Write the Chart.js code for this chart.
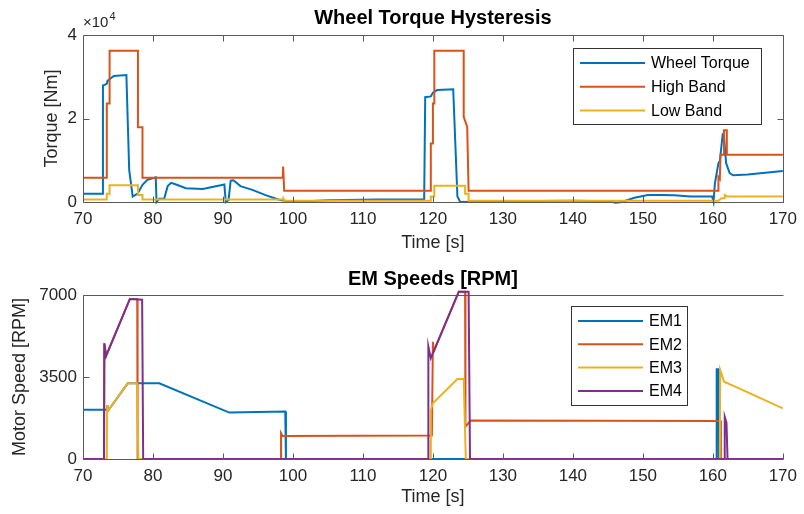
<!DOCTYPE html>
<html>
<head>
<meta charset="utf-8">
<script src="https://cdn.jsdelivr.net/npm/chart.js@4.4.0/dist/chart.umd.min.js"></script>
<style>
  html, body { margin: 0; padding: 0; background: #fff; }
  #wrap { position: relative; width: 804px; height: 514px; }
  canvas { position: absolute; left: 0; }
</style>
</head>
<body>
<div id="wrap">
  <canvas id="torque" width="804" height="257" style="top:0"></canvas>
  <canvas id="speeds" width="804" height="257" style="top:257px"></canvas>
</div>
<script>
// ---- Wheel torque hysteresis (top) ----
const wheelT = [70, 72.8, 72.85, 73.4, 73.5, 74.4, 76.2, 76.6, 77.1, 77.8, 78.5, 79.2, 80.4, 80.5, 80.9, 81.6, 82.1, 82.6, 83.3, 84.7, 87.1, 90.2, 90.4, 90.8, 91.1, 91.5, 92.5, 94.2, 96, 97.9, 99.8, 105, 112, 118.75, 118.9, 119.7, 120, 120.6, 122.9, 123.5, 123.9, 130, 140, 145.2, 146.1, 147, 148.8, 150.7, 152.6, 154.5, 156.8, 159.9, 160.1, 160.3, 160.8, 161.0, 161.4, 161.6, 161.9, 162.4, 162.9, 165, 170];
const wheelV = [2000, 2000, 27900, 28300, 29000, 30200, 30400, 7700, 1300, 2000, 4100, 5300, 5900, 0, 800, 800, 3800, 4600, 4200, 3300, 3100, 4200, 0, 500, 5100, 5200, 3800, 2900, 1700, 600, 0, 400, 600, 650, 25100, 25300, 26200, 26800, 27000, 1300, 0, 200, 300, 200, -200, 0, 1000, 1700, 1700, 1600, 1300, 1300, 0, 4500, 9300, 9800, 16000, 15500, 9300, 6900, 6400, 6600, 7400];

const highT = [70, 73.4, 73.4, 73.8, 73.8, 77.85, 77.85, 78.5, 78.5, 98.55, 98.6, 98.75, 119.7, 119.7, 120.0, 120.0, 120.2, 120.2, 124.4, 124.4, 124.9, 125.1, 160.8, 160.8, 161.0, 161.1, 161.6, 161.6, 162.0, 162.0, 170];
const highV = [5800, 5800, 23600, 23600, 36200, 36200, 17900, 17900, 5800, 5800, 8500, 2700, 2700, 14000, 14000, 23600, 23600, 36200, 36200, 20400, 18000, 2700, 2700, 6000, 5500, 11300, 11300, 17200, 17200, 11300, 11300];

const lowT = [70, 73.4, 73.4, 73.8, 73.8, 77.85, 77.85, 78.5, 78.5, 98.55, 98.6, 98.75, 119.7, 119.7, 120.2, 120.2, 124.6, 124.6, 125.1, 125.1, 160.8, 161.2, 161.6, 161.7, 162.1, 170];
const lowV = [600, 600, 2000, 2000, 4000, 4000, 1700, 1700, 600, 600, 900, 300, 300, 1300, 1300, 3900, 3900, 2000, 2000, 300, 300, 900, 900, 1700, 1300, 1300];

// ---- EM speeds (bottom) ----
const em1T = [70, 73.4, 73.45, 73.55, 76.4, 80.9, 90.9, 98.9, 99.0, 160.5, 160.55, 160.8, 160.85, 170];
const em1V = [2100, 2100, 2300, 2050, 3230, 3230, 1980, 2030, 0, 0, 3830, 3830, 0, 0];

const em2T = [70, 73.0, 73.05, 73.3, 76.7, 77.75, 77.8, 98.3, 98.3, 98.5, 119.85, 120.0, 120.1, 123.7, 124.6, 124.65, 125.4, 161.1, 161.15, 170];
const em2V = [0, 0, 4940, 4400, 6830, 6830, 0, 0, 1100, 980, 1000, 5000, 4580, 7140, 7140, 1380, 1640, 1620, 0, 0];

const em3T = [70, 73.4, 73.45, 73.55, 76.4, 77.75, 77.9, 119.7, 119.7, 120.0, 123.5, 124.4, 124.7, 161.0, 161.05, 161.6, 163.2, 170];
const em3V = [0, 0, 2300, 2050, 3230, 3230, 0, 0, 2090, 2380, 3410, 3410, 0, 0, 3800, 3300, 3090, 2160];

const em4T = [70, 73.0, 73.05, 73.3, 76.7, 78.45, 78.6, 119.3, 119.35, 119.7, 123.7, 125.1, 125.3, 161.65, 161.7, 161.95, 162.1, 170];
const em4V = [0, 0, 4940, 4400, 6830, 6800, 0, 0, 4800, 4300, 7140, 7140, 0, 0, 1800, 1550, 0, 0];

const timeTicks = [70, 80, 90, 100, 110, 120, 130, 140, 150, 160, 170];
const torqueTicks = [0, 20000, 40000];
const speedTicks = [0, 3500, 7000];

const C_BLUE = '#0072BD', C_RED = '#D95319', C_YEL = '#EDB120', C_PUR = '#7E2F8E';
const FONT = "'Liberation Sans', Arial, Helvetica, sans-serif";
const AXIS = '#5a5a5a';
const TXT = '#262626';

const pts = (t, v) => t.map((x, i) => ({ x: x, y: v[i] }));

// later series are drawn on top, like matlab's plot order
function ds(label, t, v, color, order) {
  return {
    label: label, data: pts(t, v), borderColor: color, backgroundColor: color,
    borderWidth: 2, pointRadius: 0, tension: 0, clip: false, order: order
  };
}

// frame, inward ticks, title and legend drawn around the chart area
function makeDecor(o) {
  return {
    id: 'decor',
    afterDraw(chart) {
      const ctx = chart.ctx, a = chart.chartArea;
      const xs = chart.scales.x, ys = chart.scales.y;
      const L = Math.round(a.left) + 0.5, R = Math.round(a.right) + 0.5;
      const T = Math.round(a.top) + 0.5, B = Math.round(a.bottom) + 0.5;
      ctx.save();
      ctx.strokeStyle = AXIS;
      ctx.lineWidth = 1;
      ctx.beginPath();
      ctx.moveTo(L, T); ctx.lineTo(L, B); ctx.lineTo(R, B);
      if (o.right) ctx.lineTo(R, T);
      ctx.moveTo(L, T); ctx.lineTo(R, T);
      const tl = 6;
      o.xticks.forEach(v => {
        const px = Math.round(xs.getPixelForValue(v)) + 0.5;
        ctx.moveTo(px, B); ctx.lineTo(px, B - tl);
        if (o.topTicks) { ctx.moveTo(px, T); ctx.lineTo(px, T + tl); }
      });
      o.yticks.forEach(v => {
        const py = Math.round(ys.getPixelForValue(v)) + 0.5;
        ctx.moveTo(L, py); ctx.lineTo(L + tl, py);
        if (o.right) { ctx.moveTo(R, py); ctx.lineTo(R - tl, py); }
      });
      ctx.stroke();

      // title
      ctx.fillStyle = '#000';
      ctx.font = 'bold 20px ' + FONT;
      ctx.textAlign = 'center';
      ctx.textBaseline = 'middle';
      ctx.fillText(o.title, (a.left + a.right) / 2, o.titleY);

      if (o.exponent) {
        ctx.fillStyle = TXT;
        ctx.textAlign = 'left';
        ctx.textBaseline = 'alphabetic';
        ctx.font = '15px ' + FONT;
        ctx.fillText('\u00d710', a.left, 27);
        const w = ctx.measureText('\u00d710').width;
        ctx.font = '11px ' + FONT;
        ctx.fillText('4', a.left + w + 1, 20);
      }

      // legend
      const lg = o.legend;
      ctx.fillStyle = '#fff';
      ctx.fillRect(lg.x, lg.y, lg.w, lg.h);
      ctx.strokeStyle = '#333';
      ctx.strokeRect(lg.x + 0.5, lg.y + 0.5, lg.w, lg.h);
      ctx.font = '16px ' + FONT;
      ctx.textAlign = 'left';
      ctx.textBaseline = 'middle';
      chart.data.datasets.forEach((d, i) => {
        const y = lg.row0 + i * lg.step;
        ctx.strokeStyle = d.borderColor;
        ctx.lineWidth = 2;
        ctx.beginPath();
        ctx.moveTo(lg.x + 7, y); ctx.lineTo(lg.x + 72, y);
        ctx.stroke();
        ctx.fillStyle = '#000';
        ctx.fillText(d.label, lg.x + 78, y + 1);
      });
      ctx.restore();
    }
  };
}

function baseOptions(yMin, yMax, yStep, yTitle, yTitlePad, xTitlePad, topPad, yFmt) {
  return {
    responsive: false,
    animation: false,
    layout: { padding: { top: topPad, right: 16, bottom: 0, left: 0 } },
    plugins: { legend: { display: false }, tooltip: { enabled: false }, title: { display: false } },
    scales: {
      x: {
        type: 'linear', min: 70, max: 170,
        grid: { display: false, drawTicks: false },
        border: { display: false },
        afterFit: s => { s.height = 55; },
        ticks: {
          stepSize: 10, autoSkip: false, maxRotation: 0, padding: 7,
          color: TXT, font: { family: FONT, size: 17 }
        },
        title: {
          display: true, text: 'Time [s]', color: TXT,
          font: { family: FONT, size: 18 }, padding: { top: 0, bottom: xTitlePad }
        }
      },
      y: {
        min: yMin, max: yMax,
        grid: { display: false, drawTicks: false },
        border: { display: false },
        afterFit: s => { s.width = 83; },
        ticks: {
          stepSize: yStep, padding: 6, color: TXT,
          font: { family: FONT, size: 17 },
          callback: yFmt
        },
        title: {
          display: true, text: yTitle, color: TXT,
          font: { family: FONT, size: 18 }, padding: { top: yTitlePad, bottom: 0 }
        }
      }
    }
  };
}

new Chart(document.getElementById('torque'), {
  type: 'line',
  data: {
    datasets: [
      ds('Wheel Torque', wheelT, wheelV, C_BLUE, 3),
      ds('High Band', highT, highV, C_RED, 2),
      ds('Low Band', lowT, lowV, C_YEL, 1)
    ]
  },
  options: baseOptions(torqueTicks[0], torqueTicks[2], 20000, 'Torque [Nm]', 41, 3, 35, v => v / 10000),
  plugins: [makeDecor({
    right: true, topTicks: true, xticks: timeTicks, yticks: torqueTicks,
    title: 'Wheel Torque Hysteresis', titleY: 18, exponent: true,
    legend: { x: 573, y: 48, w: 188, h: 76, row0: 63, step: 23.7 }
  })]
});

new Chart(document.getElementById('speeds'), {
  type: 'line',
  data: {
    datasets: [
      ds('EM1', em1T, em1V, C_BLUE, 4),
      ds('EM2', em2T, em2V, C_RED, 3),
      ds('EM3', em3T, em3V, C_YEL, 2),
      ds('EM4', em4T, em4V, C_PUR, 1)
    ]
  },
  options: baseOptions(speedTicks[0], speedTicks[2], 3500, 'Motor Speed [RPM]', 9, 6, 38, v => v),
  plugins: [makeDecor({
    right: false, topTicks: false, xticks: timeTicks, yticks: speedTicks,
    title: 'EM Speeds [RPM]', titleY: 22, exponent: false,
    legend: { x: 571, y: 49, w: 116, h: 99, row0: 64, step: 23.3 }
  })]
});
</script>
</body>
</html>
